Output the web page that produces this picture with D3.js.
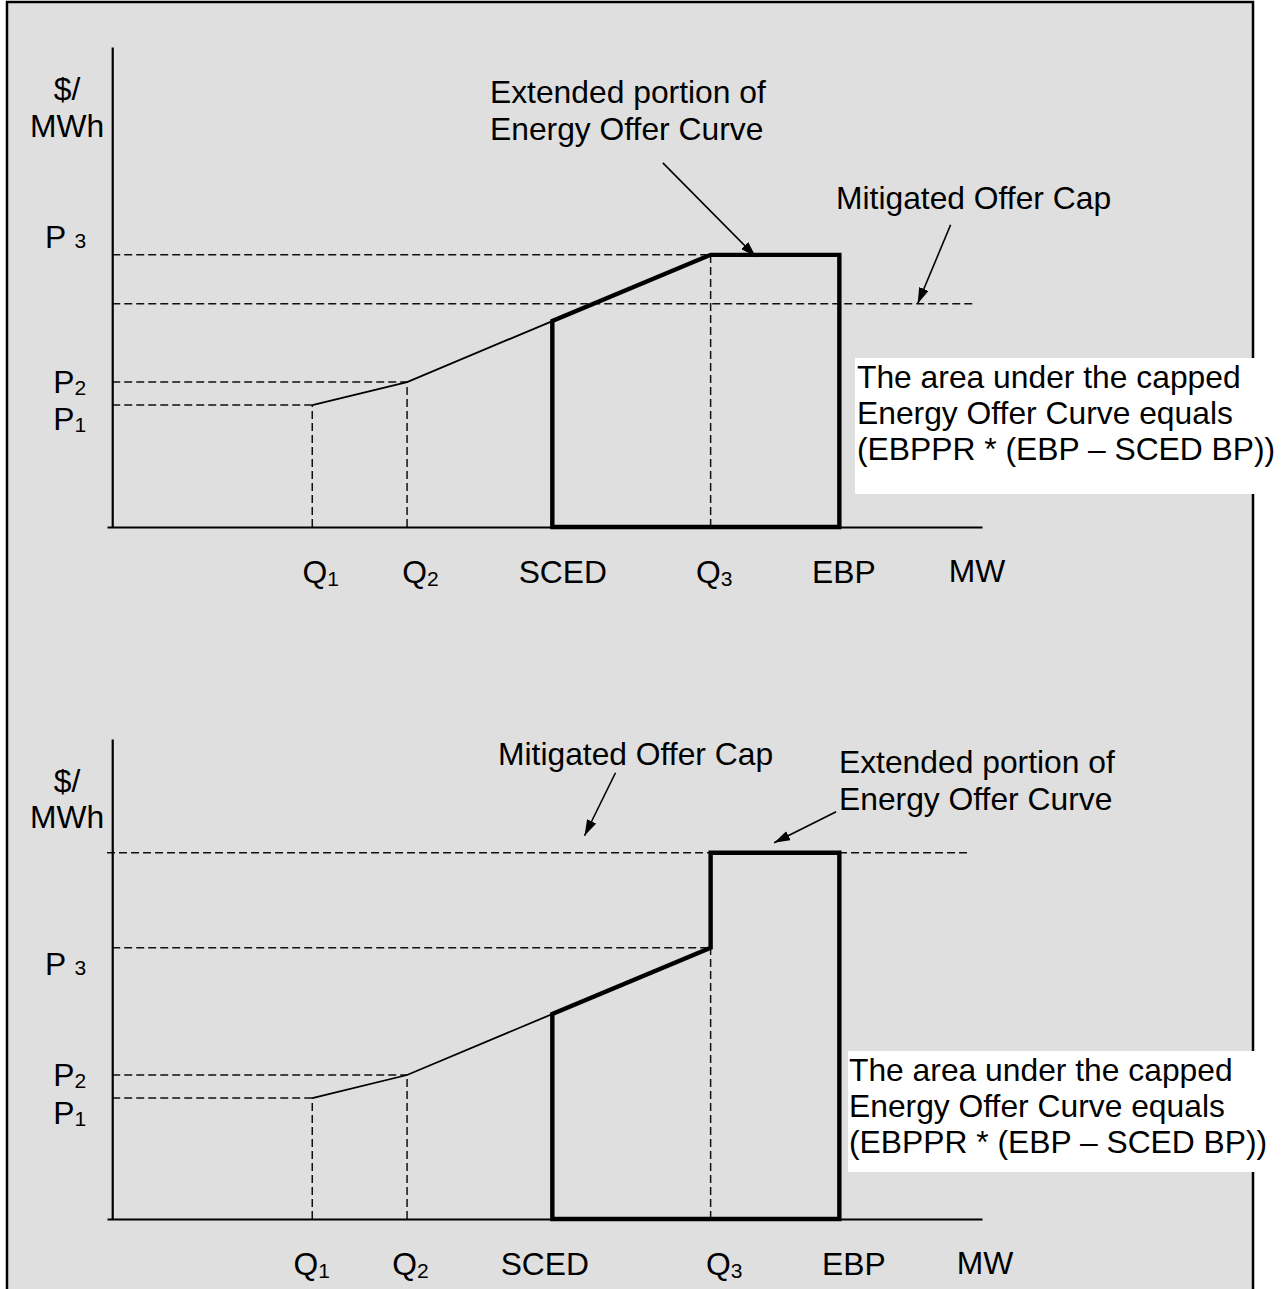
<!DOCTYPE html>
<html>
<head>
<meta charset="utf-8">
<script src="https://cdn.jsdelivr.net/npm/d3@7"></script>
<style>
body { margin: 0; background: #fff; }
text { font-family: "Liberation Sans", Arial, sans-serif; fill: #000; }
</style>
</head>
<body>
<script>
// quantities on the MW axis (Q1, Q2, SCED, Q3, EBP)
const xNames = ['Q', 'Q', 'SCED', 'Q', 'EBP'];
const xSubs = ['1', '2', '', '3', ''];
const xValues = [23.0, 33.9, 50.6, 68.8, 83.6];

// price labels on the $/MWh axis (P1, P2, P3)
const pNames = ['P', 'P', 'P'];
const pSubs = ['1', '2', '3'];

// prices: P1, P2, price at SCED, P3
const topPrices = [25.4, 30.2, 42.9, 56.7];
const topCap = 46.5;
const bottomPrices = [25.2, 30.0, 42.7, 56.5];
const bottomCap = 76.3;

const noteLines = ['The area under the capped', 'Energy Offer Curve equals', '(EBPPR * (EBP \u2013 SCED BP))'];

const W = 1288, H = 1289;
const FS = 31.8;
const svg = d3.select('body').append('svg')
  .attr('width', W)
  .attr('height', H);

svg.append('defs').append('marker')
  .attr('id', 'arrow')
  .attr('viewBox', '0 0 16 10')
  .attr('refX', 16)
  .attr('refY', 5)
  .attr('markerWidth', 16)
  .attr('markerHeight', 10)
  .attr('markerUnits', 'userSpaceOnUse')
  .attr('orient', 'auto')
  .append('path')
  .attr('d', 'M0,0L16,5L0,10Z')
  .attr('fill', '#000');

// frame
svg.append('rect')
  .attr('x', 7).attr('y', 2)
  .attr('width', 1246).attr('height', H + 10)
  .attr('fill', '#dfdfdf')
  .attr('stroke', '#000')
  .attr('stroke-width', 2.5);

const panels = [
  {
    top: 47, base: 527, prices: topPrices, cap: topCap, capEnd: 99.2, capStart: 0,
    flatLevel: topPrices[3],
    xLabelDx: [8, 13, 10, 3, 4], mwX: 977,
    pLabelDy: [14, 0, -18],
    titleY: [100, 137],
    box: { x: 855, y: 358, w: 403, h: 136, tx: 857, ty: 388 },
    capNote: { x: 836, y: 209, tip: [92.6, 0], tail: [33, -79] },
    extNote: { x: 490, y: 103, tip: [74.0, 2], tail: [-93, -94] }
  },
  {
    top: 739, base: 1219, prices: bottomPrices, cap: bottomCap, capEnd: 98.5, capStart: -0.6,
    flatLevel: bottomCap,
    xLabelDx: [-1, 3, -8, 13, 14], mwX: 985,
    pLabelDy: [15, 0, 17],
    titleY: [792, 828],
    box: { x: 848, y: 1051, w: 410, h: 121, tx: 849, ty: 1081 },
    capNote: { x: 498, y: 765, tip: [54.3, -17], tail: [31, -63] },
    extNote: { x: 839, y: 773, tip: [76.1, -10], tail: [62, -31] }
  }
];

panels.forEach(p => {
  const x = d3.scaleLinear().domain([-0.6, 100]).range([107, 982]);
  const y = d3.scaleLinear().domain([0, 100]).range([p.base, p.top]);
  const g = svg.append('g');

  const [p1, p2, ps, p3] = p.prices;
  const [q1, q2, qs, q3, ebp] = xValues;

  // dashed guide lines
  const guides = [
    [[0, p1], [q1, p1]],
    [[0, p2], [q2, p2]],
    [[0, p3], [q3, p3]],
    [[p.capStart, p.cap], [p.capEnd, p.cap]],
    [[q1, 0], [q1, p1]],
    [[q2, 0], [q2, p2]],
    [[q3, 0], [q3, p3]]
  ];
  const line = d3.line().x(d => x(d[0])).y(d => y(d[1]));
  g.selectAll('path.guide')
    .data(guides)
    .enter()
    .append('path')
    .attr('class', 'guide')
    .attr('d', line)
    .attr('fill', 'none')
    .attr('stroke', '#111')
    .attr('stroke-width', 1.5)
    .attr('stroke-dasharray', '8,4');

  // axes
  const xAxis = d3.axisBottom(x)
    .tickValues(xValues)
    .tickSize(0)
    .tickPadding(33)
    .tickSizeOuter(0);
  const xg = g.append('g')
    .attr('transform', `translate(0,${p.base})`)
    .call(xAxis);
  xg.select('.domain').attr('stroke', '#000').attr('stroke-width', 2.2);
  xg.selectAll('.tick text')
    .attr('font-size', FS)
    .attr('font-family', '"Liberation Sans", Arial, sans-serif')
    .attr('fill', '#000')
    .attr('x', (d, i) => p.xLabelDx[i])
    .text(null)
    .each(function (d, i) {
      const t = d3.select(this);
      t.append('tspan').text(xNames[i]);
      if (xSubs[i]) t.append('tspan').attr('font-size', 21).attr('dy', 3).text(xSubs[i]);
    });

  const pTicks = [p1, p2, p3];
  const yAxis = d3.axisLeft(y)
    .tickValues(pTicks)
    .tickSize(0)
    .tickPadding(26)
    .tickSizeOuter(0);
  const yg = g.append('g')
    .attr('transform', `translate(${x(0)},0)`)
    .call(yAxis);
  yg.select('.domain').attr('stroke', '#000').attr('stroke-width', 2.2);
  yg.selectAll('.tick text')
    .attr('font-size', FS)
    .attr('font-family', '"Liberation Sans", Arial, sans-serif')
    .attr('fill', '#000')
    .attr('y', (d, i) => p.pLabelDy[i])
    .text(null)
    .each(function (d, i) {
      const t = d3.select(this);
      t.append('tspan').text(pNames[i] + (i === 2 ? ' ' : ''));
      t.append('tspan').attr('font-size', 21).attr('dy', i === 2 ? 0 : 2).text(pSubs[i]);
    });

  // axis titles
  g.append('text').attr('x', 67).attr('y', p.titleY[0]).attr('text-anchor', 'middle').attr('font-size', FS).text('$/');
  g.append('text').attr('x', 67).attr('y', p.titleY[1]).attr('text-anchor', 'middle').attr('font-size', FS).text('MWh');
  g.append('text').attr('x', p.mwX).attr('y', p.base + 55).attr('text-anchor', 'middle').attr('font-size', FS).text('MW');

  // thin offer curve
  g.append('path')
    .attr('d', line([[q1, p1], [q2, p2], [qs, ps]]))
    .attr('fill', 'none')
    .attr('stroke', '#000')
    .attr('stroke-width', 1.8);

  // thick capped area outline
  g.append('path')
    .attr('d', line([[qs, 0], [qs, ps], [q3, p3], [q3, p.flatLevel], [ebp, p.flatLevel], [ebp, 0]]) + 'Z')
    .attr('fill', 'none')
    .attr('stroke', '#000')
    .attr('stroke-width', 4.4)
    .attr('stroke-linejoin', 'miter');

  // annotations
  const arrow = (note, level) => {
    const tx = x(note.tip[0]);
    const ty = y(level) + note.tip[1];
    g.append('line')
      .attr('x1', tx + note.tail[0]).attr('y1', ty + note.tail[1])
      .attr('x2', tx).attr('y2', ty)
      .attr('stroke', '#000')
      .attr('stroke-width', 1.6)
      .attr('marker-end', 'url(#arrow)');
  };
  g.append('text').attr('x', p.capNote.x).attr('y', p.capNote.y).attr('font-size', FS).text('Mitigated Offer Cap');
  arrow(p.capNote, p.cap);
  g.append('text').attr('x', p.extNote.x).attr('y', p.extNote.y).attr('font-size', FS).text('Extended portion of');
  g.append('text').attr('x', p.extNote.x).attr('y', p.extNote.y + 37).attr('font-size', FS).text('Energy Offer Curve');
  arrow(p.extNote, p.flatLevel);

  // white note box (covers the frame's right edge)
  g.append('rect')
    .attr('x', p.box.x).attr('y', p.box.y)
    .attr('width', p.box.w).attr('height', p.box.h)
    .attr('fill', '#fff');
  g.selectAll('text.note')
    .data(noteLines)
    .enter()
    .append('text')
    .attr('class', 'note')
    .attr('x', p.box.tx)
    .attr('y', (d, i) => p.box.ty + i * 36)
    .attr('font-size', FS)
    .text(d => d);
});
</script>
</body>
</html>
